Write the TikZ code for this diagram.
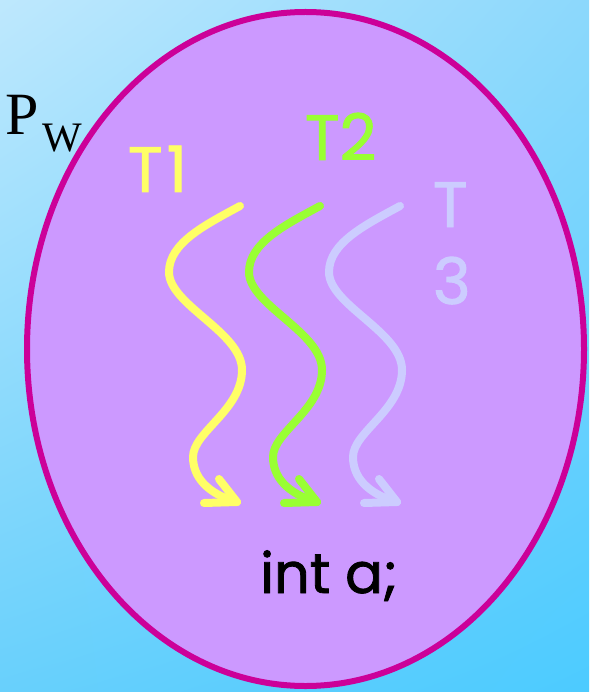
\documentclass[tikz,border=0pt]{standalone}
\usepackage{fontspec}
\usetikzlibrary{shadings}
\setmainfont{Liberation Serif}
\newfontfamily\handfont[FakeBold=1.5]{Poppins}
\definecolor{bgtl}{RGB}{190,232,253}
\definecolor{bgtr}{RGB}{140,216,252}
\definecolor{bgbl}{RGB}{104,208,252}
\definecolor{bgbr}{RGB}{76,203,255}
\definecolor{procfill}{RGB}{204,153,255}
\definecolor{procline}{RGB}{204,0,153}
\definecolor{tyellow}{RGB}{255,255,102}
\definecolor{tgreen}{RGB}{153,255,51}
\definecolor{tlav}{RGB}{204,204,255}
\tikzset{
  thread/.style={line width=8pt, line cap=round, line join=round},
  hand/.style={font=\handfont\fontsize{64}{77}\selectfont, inner sep=0pt, outer sep=0pt},
}
\begin{document}
\begin{tikzpicture}[x=1pt,y=-1pt]
\useasboundingbox (0,0) rectangle (589,692);
\shade[upper left=bgtl, upper right=bgtr, lower left=bgbl, lower right=bgbr] (0,0) rectangle (589,692);
\draw[line width=6pt, draw=procline, fill=procfill] (305.5,349) ellipse [x radius=278.5, y radius=337];
% P_W label
\node[inner sep=0pt, anchor=base west, font=\fontsize{60}{60}\selectfont] (p) at (5,135) {P};
\node[inner sep=0pt, anchor=base west, font=\fontsize{42}{42}\selectfont] (w) at (42,152) {W};
% thread labels
\node[hand, text=tyellow, anchor=base west] (t1) at (128,192) {T\kern4pt1};
\node[hand, text=tgreen, anchor=base west] (t2) at (305,160) {T2};
\node[hand, text=tlav, anchor=base west, align=left] (t3) at (433,304) {T\\3};
% threads
\foreach \dx/\col in {0/tyellow, 80/tgreen, 160/tlav}{
  \begin{scope}[xshift=\dx]
  \draw[thread, draw=\col] (240,206) .. controls (205,225) and (169,243) .. (169,272)
     .. controls (169,305) and (242,332) .. (242,370)
     .. controls (242,410) and (193,432) .. (193,457)
     .. controls (193,482) and (215,496) .. (237,502);
  \draw[thread, draw=\col] (219,479) -- (237,502) -- (204,503);
  \end{scope}
}
% variable
\node[font=\handfont\fontsize{56}{56}\selectfont, inner sep=0pt, anchor=base west] (var) at (260,593) {int a;};
\end{tikzpicture}
\end{document}
